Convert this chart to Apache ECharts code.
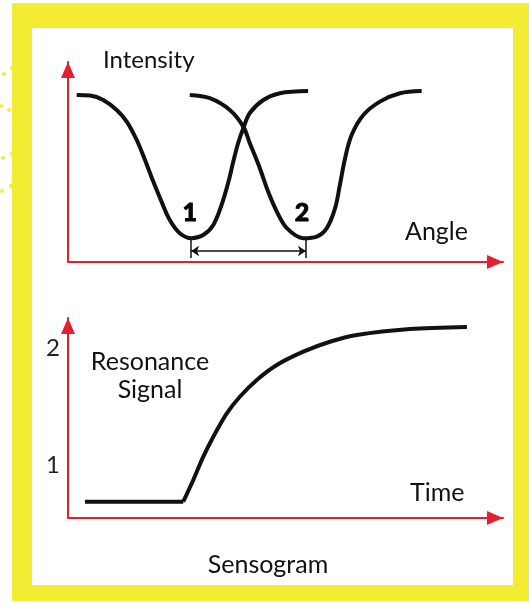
<!DOCTYPE html>
<html>
<head>
<meta charset="utf-8">
<script src="https://cdn.jsdelivr.net/npm/echarts@6/dist/echarts.min.js"></script>
<style>
  html, body { margin: 0; padding: 0; background: #fff; }
  #chart { width: 529px; height: 603px; }
</style>
</head>
<body>
<div id="chart"></div>
<script>
// Angle scan: reflectivity dip before (1) and after (2) binding
const dip1Angle = [2.0, 5.1, 8.1, 11.2, 13.5, 15.8, 17.7, 19.6, 21.5, 23.4, 25.7, 28.4, 31.1, 33.4, 35.3, 36.9, 38.0, 39.1, 40.3, 41.8, 44.9, 48.7, 55.2];
const dip1Intensity = [83.5, 83.2, 81.0, 76.0, 70.2, 61.0, 51.0, 40.2, 30.2, 21.0, 14.4, 11.9, 13.5, 18.5, 28.5, 40.2, 50.2, 59.4, 66.9, 74.5, 81.0, 84.4, 85.5];
const dip2Angle = [28.0, 32.6, 37.2, 40.3, 41.8, 44.1, 46.0, 48.0, 50.3, 54.1, 57.2, 59.5, 61.4, 62.5, 63.7, 65.2, 67.9, 71.7, 76.3, 81.3];
const dip2Intensity = [83.5, 81.9, 76.0, 67.7, 59.4, 46.9, 35.2, 25.2, 16.9, 11.9, 12.7, 16.9, 26.9, 38.5, 51.9, 63.5, 73.5, 80.2, 84.4, 85.5];
const dipLabels = ['1', '2'];
const dipLabelAngle = [28.0, 53.8];
const dipLabelIntensity = [24.5, 24.5];
const shiftAngles = [28.3, 54.7];

// Sensogram: baseline, then association curve
const baselineTime = [3.9, 26.5];
const baselineSignal = [0.69, 0.69];
const responseTime = [26.5, 28.8, 31.1, 33.4, 36.5, 39.5, 43.4, 48.0, 54.1, 60.2, 66.4, 78.6, 91.7];
const responseSignal = [0.69, 0.875, 1.074, 1.245, 1.445, 1.587, 1.73, 1.858, 1.972, 2.057, 2.115, 2.166, 2.183];
const signalTicks = [1, 2];

const RED = '#e5202e';
const INK = '#111';
const FONT = 'Lato';

const toPairs = (xs, ys) => xs.map((x, i) => [x, ys[i]]);

function arrowAxis(extra) {
    return Object.assign({
        type: 'value',
        min: 0,
        max: 100,
        axisLine: {
            show: true,
            symbol: ['none', 'triangle'],
            symbolSize: [14, 16],
            symbolOffset: [0, -8],
            lineStyle: { color: RED, width: 2 }
        },
        axisTick: { show: false },
        axisLabel: { show: false },
        splitLine: { show: false }
    }, extra);
}

function label(text, x, y, align, size) {
    return {
        type: 'text', z: 50, x: x, y: y, silent: true,
        style: { text: text, font: size + 'px ' + FONT, fill: INK, align: align, verticalAlign: 'middle' }
    };
}

const chart = echarts.init(document.getElementById('chart'));

const dots = [[4, 74], [12, 68], [1, 106], [9, 110], [3, 158], [12, 154], [2, 191], [11, 186]];

const option = {
    animation: false,
    backgroundColor: '#fff',
    grid: [
        { left: 68, top: 62, width: 435, height: 200, outerBoundsMode: 'none' },
        { left: 68, top: 318, width: 435, height: 200, outerBoundsMode: 'none' }
    ],
    xAxis: [
        arrowAxis({ gridIndex: 0 }),
        arrowAxis({ gridIndex: 1 })
    ],
    yAxis: [
        arrowAxis({ gridIndex: 0 }),
        arrowAxis({
            gridIndex: 1,
            min: 0.55,
            max: 2.26,
            axisLabel: {
                show: true,
                customValues: signalTicks,
                color: '#222',
                fontFamily: FONT,
                fontSize: 24,
                margin: 8
            }
        })
    ],
    graphic: [
        { type: 'rect', z: -100, silent: true, shape: { x: 12, y: 3, width: 517, height: 598 }, style: { fill: '#f3ec33' } },
        { type: 'rect', z: -99, silent: true, shape: { x: 32, y: 28, width: 481, height: 557 }, style: { fill: '#fff' } },
        ...dots.map(d => ({ type: 'circle', z: -98, silent: true, shape: { cx: d[0], cy: d[1], r: 2 }, style: { fill: '#f3ec33' } })),
        label('Intensity', 103, 60, 'left', 24),
        label('Angle', 405, 232, 'left', 25),
        label('Resonance', 150, 362, 'center', 25),
        label('Signal', 150, 390, 'center', 25),
        label('Time', 410, 493, 'left', 25),
        label('Sensogram', 268, 565, 'center', 25)
    ],
    series: [
        {
            name: 'Dip 1',
            type: 'line',
            xAxisIndex: 0, yAxisIndex: 0,
            data: toPairs(dip1Angle, dip1Intensity),
            smooth: 0.35,
            symbol: 'none',
            lineStyle: { color: INK, width: 4 }
        },
        {
            name: 'Dip 2',
            type: 'line',
            xAxisIndex: 0, yAxisIndex: 0,
            data: toPairs(dip2Angle, dip2Intensity),
            smooth: 0.35,
            symbol: 'none',
            lineStyle: { color: INK, width: 4 }
        },
        {
            name: 'Dip labels',
            type: 'scatter',
            xAxisIndex: 0, yAxisIndex: 0,
            symbolSize: 0,
            itemStyle: { opacity: 1 },
            data: dipLabelAngle.map((a, i) => ({ value: [a, dipLabelIntensity[i]], name: dipLabels[i] })),
            label: {
                show: true,
                position: 'inside',
                formatter: p => p.name,
                color: '#000',
                opacity: 1,
                fontFamily: FONT,
                fontWeight: 900,
                fontSize: 25,
                textBorderColor: '#000',
                textBorderWidth: 0.8
            },
            markLine: {
                silent: true,
                symbol: ['none', 'none'],
                symbolSize: 8,
                label: { show: false },
                lineStyle: { color: INK, width: 1.5, type: 'solid' },
                data: [
                    [{ coord: [shiftAngles[0], 11] }, { coord: [shiftAngles[0], 2] }],
                    [{ coord: [shiftAngles[1], 11] }, { coord: [shiftAngles[1], 2] }],
                    [{ coord: [shiftAngles[0], 5.5], symbol: 'arrow' }, { coord: [shiftAngles[1], 5.5], symbol: 'arrow' }]
                ]
            }
        },
        {
            name: 'Baseline',
            type: 'line',
            xAxisIndex: 1, yAxisIndex: 1,
            data: toPairs(baselineTime, baselineSignal),
            symbol: 'none',
            lineStyle: { color: INK, width: 4 }
        },
        {
            name: 'Response',
            type: 'line',
            xAxisIndex: 1, yAxisIndex: 1,
            data: toPairs(responseTime, responseSignal),
            smooth: 0.3,
            symbol: 'none',
            lineStyle: { color: INK, width: 4 }
        }
    ]
};

chart.setOption(option);
</script>
</body>
</html>
